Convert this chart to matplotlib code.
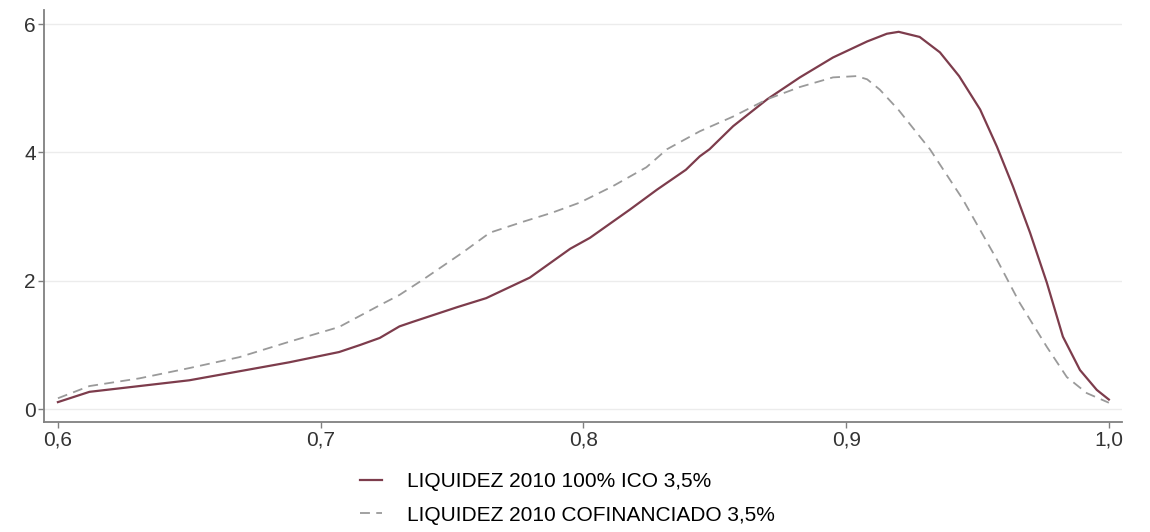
import matplotlib
matplotlib.use("Agg")
import matplotlib.pyplot as plt

# densidad kernel de la ratio de liquidez, dos escenarios
x_ico = [0.600, 0.612, 0.631, 0.650, 0.669, 0.688, 0.707, 0.715, 0.7225, 0.730,
         0.735, 0.752, 0.763, 0.7796, 0.795, 0.8025, 0.8177, 0.828, 0.839, 0.8443,
         0.848, 0.857, 0.870, 0.8824, 0.895, 0.908, 0.9155, 0.920, 0.928, 0.9357,
         0.943, 0.951, 0.9574, 0.9635, 0.970, 0.9764, 0.9825, 0.989, 0.9954, 1.000]
y_ico = [0.11, 0.27, 0.36, 0.45, 0.59, 0.73, 0.89, 1.00, 1.11, 1.29,
         1.36, 1.59, 1.73, 2.05, 2.50, 2.67, 3.11, 3.42, 3.73, 3.94,
         4.05, 4.41, 4.83, 5.17, 5.48, 5.73, 5.85, 5.88, 5.80, 5.56,
         5.19, 4.67, 4.09, 3.47, 2.75, 1.97, 1.13, 0.61, 0.30, 0.15]

x_cof = [0.600, 0.612, 0.631, 0.650, 0.669, 0.688, 0.707, 0.7225, 0.730, 0.739,
         0.754, 0.7644, 0.777, 0.788, 0.7987, 0.811, 0.824, 0.8318, 0.8443, 0.857,
         0.870, 0.8824, 0.895, 0.904, 0.908, 0.9128, 0.920, 0.9319, 0.9444, 0.9574,
         0.966, 0.9764, 0.984, 0.9916, 1.000]
y_cof = [0.17, 0.36, 0.48, 0.64, 0.81, 1.05, 1.28, 1.62, 1.78, 2.02,
         2.44, 2.75, 2.92, 3.06, 3.22, 3.47, 3.77, 4.05, 4.33, 4.56,
         4.83, 5.02, 5.17, 5.19, 5.14, 4.98, 4.66, 4.05, 3.27, 2.33,
         1.66, 0.97, 0.50, 0.25, 0.10]

x_ticks = [0.6, 0.7, 0.8, 0.9, 1.0]
x_labels = ["0,6", "0,7", "0,8", "0,9", "1,0"]
y_ticks = [0, 2, 4, 6]
labels = ["LIQUIDEZ 2010 100% ICO 3,5%", "LIQUIDEZ 2010 COFINANCIADO 3,5%"]

plt.rcParams['font.family'] = ['Liberation Sans', 'DejaVu Sans']

fig = plt.figure(figsize=(11.5, 5.32), dpi=100)
ax = fig.add_axes([44 / 1150, 1 - 422 / 532, (1122 - 44) / 1150, (422 - 10) / 532])

ax.plot(x_ico, y_ico, color='#7d3c4c', lw=1.6, label=labels[0])
ax.plot(x_cof, y_cof, color='#9a9a9a', lw=1.3, dashes=(5.5, 3.5), label=labels[1])

ax.set_xlim(0.5947, 1.005)
ax.set_ylim(-0.2, 6.22)
ax.set_xticks(x_ticks)
ax.set_xticklabels(x_labels)
ax.set_yticks(y_ticks)

ax.grid(axis='y', color='#ececec', lw=1)
ax.set_axisbelow(True)
for s in ['top', 'right']:
    ax.spines[s].set_visible(False)
for s in ['left', 'bottom']:
    ax.spines[s].set_color('#808080')
    ax.spines[s].set_linewidth(1.3)
ax.tick_params(colors='#808080', length=4, width=1, labelsize=15,
               labelcolor='#333333', pad=2)

fig.legend(loc='upper left', bbox_to_anchor=(360 / 1150, 1 - 472 / 532),
           frameon=False, fontsize=15, handlelength=1.06, handletextpad=1.2,
           labelspacing=0.7, borderpad=0, borderaxespad=0)

fig.savefig("out.png", dpi=100)
